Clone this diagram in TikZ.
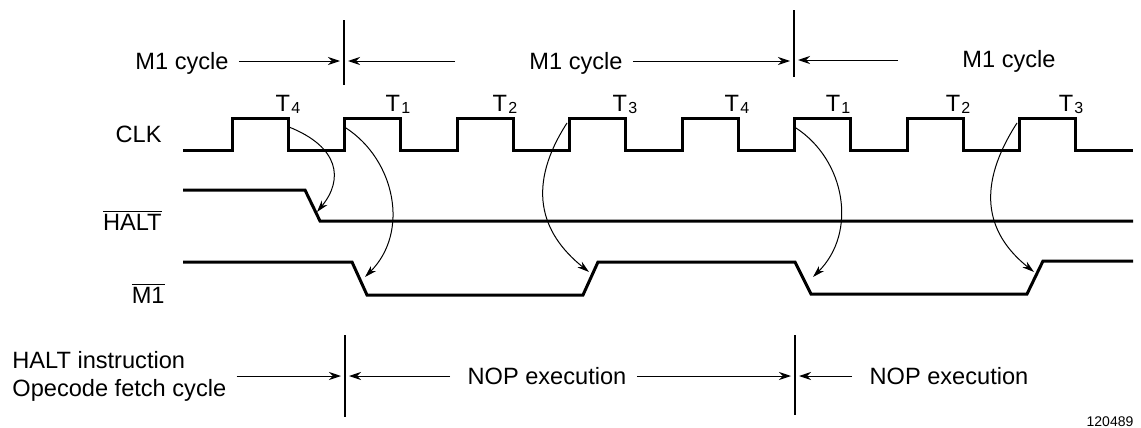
\documentclass[tikz,border=0pt]{standalone}
\usepackage{fontspec}
\setmainfont{Liberation Sans}
\usepackage{tikz}
\usetikzlibrary{arrows.meta,positioning,calc}
\newcommand{\tsub}[1]{T\kern0.6pt\raisebox{-1.2pt}{\fontsize{8}{9}\selectfont#1}}
\newcommand{\sigbar}[1]{$\overline{\mbox{#1}}$}
\tikzset{
  wave/.style={line width=1.5pt,line join=miter},
  marker/.style={line width=0.6pt},
  span/.style={line width=0.5pt,-{Stealth[length=6pt,width=4pt]},shorten >=2pt},
  cause/.style={line width=0.5pt,-{Stealth[length=6pt,width=3.6pt]}},
  lbl/.style={font=\fontsize{11.8}{14}\selectfont,inner ysep=0pt,inner xsep=5pt,text height=9pt,text depth=1pt},
  note/.style={font=\fontsize{11.8}{14}\selectfont,inner ysep=0pt,inner xsep=5pt,align=left},
  tlab/.style={font=\fontsize{11.8}{14}\selectfont,inner sep=0pt,anchor=base}
}

\begin{document}
\begin{tikzpicture}[x=0.5pt,y=-0.5pt]
\useasboundingbox (0,0) rectangle (1141,428);
\node[lbl,anchor=east] (clk) at (172,134) {CLK};
\node[lbl,anchor=east] (halt) at (172,222) {\sigbar{HALT}};
\node[lbl,anchor=east] (mone) at (175,295) {\sigbar{M1}};
\draw[wave] (183,150) \foreach \r in {0,...,7} {-- ({232+112.5*\r},150) -- ++(0,-32) -- ++(56,0) -- ++(0,32)} -- (1133,150);
\draw[wave] (183,190) -- (305,190) -- (320,221) -- (1133,221);
\draw[wave] (183,262) -- (352,262) -- (367,295) -- (583,295) -- (598,262) -- (795,262) -- (811,294) -- (1027,294) -- (1043,261) -- (1133,261);
\foreach \x/\n [count=\i] in {288/4,398/1,505/2,625/3,737/4,838/1,958/2,1071/3} \node[tlab] (t\i) at (\x,111) {\tsub{\n}};
\coordinate (k1) at (289,127); \coordinate (k2) at (346,128); \coordinate (k3) at (567,123); \coordinate (k4) at (796,128); \coordinate (k5) at (1017,123);
\coordinate (h1) at (317,212); \coordinate (s1) at (365,277); \coordinate (s2) at (589,272); \coordinate (s3) at (813,277); \coordinate (s4) at (1034,272);
\draw[cause] (k1) .. controls +(50,20) and +(27,-33) .. (h1);
\draw[cause] (k2) .. controls +(49,32) and +(45,-45) .. (s1);
\draw[cause] (k3) .. controls +(-40,62) and +(-50,-40) .. (s2);
\draw[cause] (k4) .. controls +(49,32) and +(45,-45) .. (s3);
\draw[cause] (k5) .. controls +(-40,62) and +(-50,-40) .. (s4);
\draw[marker] (344,20) coordinate (v1t) -- (344,85) coordinate (v1b);
\draw[marker] (794,10) coordinate (v2t) -- (794,77) coordinate (v2b);
\node[lbl] (mc1) at (182,61) {M1 cycle};
\node[lbl] (mc2) at (576,61) {M1 cycle};
\node[lbl] (mc3) at (1009,60) {M1 cycle};
\coordinate (a1) at (455,61); \coordinate (a2) at (898,60);
\draw[span] (mc1) -- (mc1 -| v1t); \draw[span] (a1) -- (a1 -| v1t);
\draw[span] (mc2) -- (mc2 -| v2t); \draw[span] (a2) -- (a2 -| v2t);
\draw[marker] (345,335) coordinate (w1t) -- (345,417) coordinate (w1b);
\draw[marker] (795,335) coordinate (w2t) -- (795,415) coordinate (w2b);
\node[note,anchor=west] (fetch) at (2,376) {HALT instruction\\Opecode fetch cycle};
\node[lbl] (nop1) at (547,376) {NOP execution};
\node[lbl] (nop2) at (949,376) {NOP execution};
\coordinate (b1) at (450,376); \coordinate (b2) at (852,376);
\draw[span] (fetch) -- (fetch -| w1t); \draw[span] (b1) -- (b1 -| w1t);
\draw[span] (nop1) -- (nop1 -| w2t); \draw[span] (b2) -- (b2 -| w2t);
\node[font=\fontsize{7}{8}\selectfont,inner sep=0pt] (fig) at (1110,422) {120489};
\end{tikzpicture}
\end{document}
